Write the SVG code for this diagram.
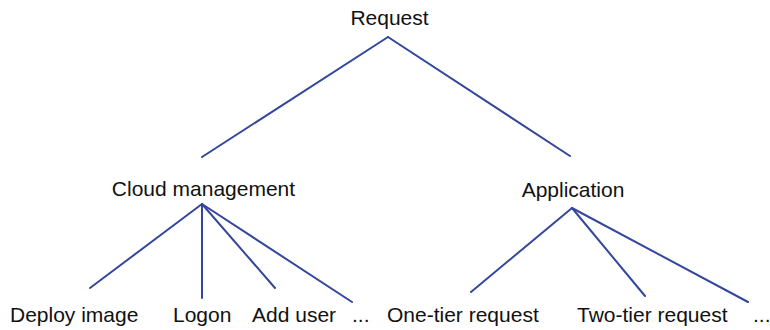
<svg xmlns="http://www.w3.org/2000/svg" width="770" height="330" viewBox="0 0 770 330">
<style>
text{font-family:"Liberation Sans",Arial,sans-serif;font-size:21px;fill:#111}
.c line{stroke:#34479b;stroke-width:2;stroke-linecap:round}
</style>
<rect width="770" height="330" fill="#fff"/>
<g class="c" id="connectors">
<line x1="388" y1="37" x2="202" y2="157"/>
<line x1="388" y1="37" x2="570" y2="156"/>
<line x1="202" y1="204" x2="90" y2="288"/>
<line x1="202" y1="204" x2="202" y2="298"/>
<line x1="202" y1="204" x2="275" y2="288"/>
<line x1="202" y1="204" x2="352" y2="302"/>
<line x1="572" y1="208" x2="471" y2="292"/>
<line x1="572" y1="208" x2="645" y2="296"/>
<line x1="572" y1="208" x2="748" y2="302"/>
</g>
<g id="request"><text x="389.5" y="25" text-anchor="middle">Request</text></g>
<g id="cloud"><text x="203.5" y="196" text-anchor="middle">Cloud management</text></g>
<g id="application"><text x="573" y="197" text-anchor="middle">Application</text></g>
<g id="deploy"><text x="10" y="322">Deploy image</text></g>
<g id="logon"><text x="173" y="322">Logon</text></g>
<g id="adduser"><text x="252" y="322">Add user</text></g>
<g id="more1"><text x="352" y="322">...</text></g>
<g id="onetier"><text x="387" y="322">One-tier request</text></g>
<g id="twotier"><text x="577" y="322">Two-tier request</text></g>
<g id="more2"><text x="753" y="322">...</text></g>
</svg>
